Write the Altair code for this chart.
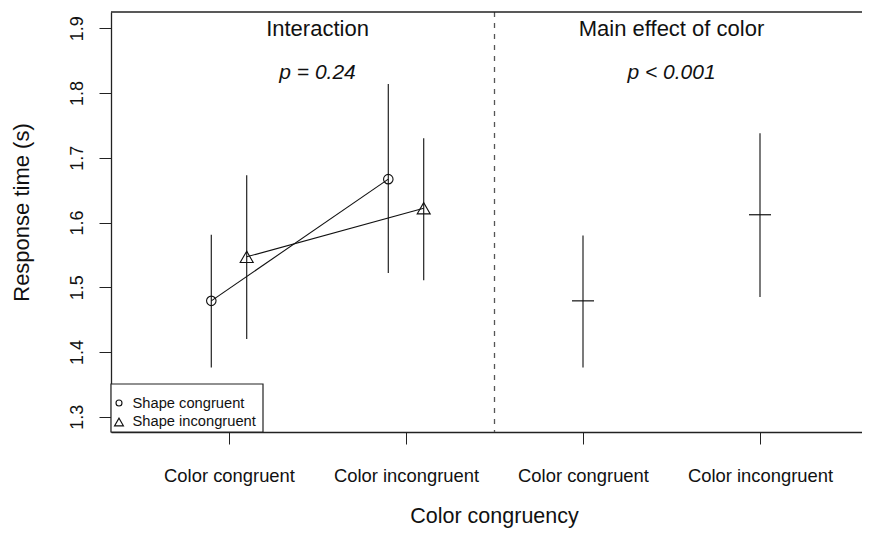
import altair as alt
import pandas as pd

# ---- data ----
conditions = ["Color congruent", "Color incongruent"]
shape_levels = ["Shape congruent", "Shape incongruent"]
panel_titles = ["Interaction", "Main effect of color"]
p_labels = ["p = 0.24", "p < 0.001"]

circle_mean = [1.479, 1.667]
circle_lo = [1.376, 1.522]
circle_hi = [1.581, 1.814]

tri_mean = [1.547, 1.622]
tri_lo = [1.420, 1.511]
tri_hi = [1.673, 1.730]

main_mean = [1.479, 1.612]
main_lo = [1.376, 1.485]
main_hi = [1.580, 1.738]

y_ticks = [1.3, 1.4, 1.5, 1.6, 1.7, 1.8, 1.9]
x_ticks = [1, 2, 3, 4]

# ---- tables ----
dodge = 0.1
rows = []
for i in range(2):
    rows.append(dict(series=shape_levels[0], x=1 + i - dodge, mean=circle_mean[i], lo=circle_lo[i], hi=circle_hi[i]))
    rows.append(dict(series=shape_levels[1], x=1 + i + dodge, mean=tri_mean[i], lo=tri_lo[i], hi=tri_hi[i]))
inter = pd.DataFrame(rows)
main = pd.DataFrame(dict(x=[3, 4], mean=main_mean, lo=main_lo, hi=main_hi))
titles = pd.DataFrame(dict(x=[1.5, 3.5], title=panel_titles, p=p_labels))

W, H = 751, 420
FONT = "Liberation Sans"
xs = alt.Scale(domain=[1 - 118 / 177, 1 - 118 / 177 + W / 177], nice=False, zero=False)
ys = alt.Scale(domain=[1.2764, 1.9252], nice=False, zero=False)

label_expr = "(datum.value == 1 || datum.value == 3) ? '%s' : '%s'" % (conditions[0], conditions[1])

x_axis = alt.Axis(values=x_ticks, labelExpr=label_expr, title="Color congruency",
                  grid=False, tickSize=12, tickColor="#222", domainColor="#222", domainWidth=1.3,
                  labelFontSize=18.4, labelFont=FONT, labelColor="#111", labelBaseline="alphabetic",
                  labelPadding=37, labelFlush=False,
                  titleFontSize=21.5, titleFont=FONT, titleFontWeight="normal", titleColor="#111",
                  titleX=383, titleY=90, titleBaseline="alphabetic", titleAlign="center")
y_axis = alt.Axis(values=y_ticks, format=".1f", title="Response time (s)",
                  grid=False, tickSize=12, tickColor="#222", domainColor="#222", domainWidth=1.3,
                  labelFontSize=18, labelFont=FONT, labelColor="#111", labelAngle=-90,
                  labelAlign="center", labelBaseline="alphabetic", labelPadding=17,
                  titleFontSize=22, titleFont=FONT, titleFontWeight="normal", titleColor="#111",
                  titleAngle=-90, titleX=-90, titleY=200, titleAlign="center", titleBaseline="middle")

base_i = alt.Chart(inter)

bars_i = base_i.mark_rule(color="#222", strokeWidth=1.2).encode(
    x=alt.X("x:Q", scale=xs, axis=x_axis), y=alt.Y("lo:Q", scale=ys, axis=y_axis), y2="hi:Q")

lines_i = base_i.mark_line(color="#111", strokeWidth=1.1).encode(
    x=alt.X("x:Q", scale=xs), y=alt.Y("mean:Q", scale=ys), detail="series:N", order="x:Q")

circles = alt.Chart(inter[inter.series == shape_levels[0]]).mark_point(
    shape="circle", filled=False, size=90, color="#111", strokeWidth=1.1, opacity=1).encode(
    x=alt.X("x:Q", scale=xs), y=alt.Y("mean:Q", scale=ys))

tris = alt.Chart(inter[inter.series == shape_levels[1]]).mark_point(
    shape="triangle-up", filled=False, size=170, color="#111", strokeWidth=1.1, opacity=1).encode(
    x=alt.X("x:Q", scale=xs), y=alt.Y("mean:Q", scale=ys))

base_m = alt.Chart(main)
bars_m = base_m.mark_rule(color="#222", strokeWidth=1.2).encode(
    x=alt.X("x:Q", scale=xs), y=alt.Y("lo:Q", scale=ys), y2="hi:Q")
ticks_m = base_m.mark_tick(orient="horizontal", size=22, thickness=1.2, color="#111", opacity=1).encode(
    x=alt.X("x:Q", scale=xs), y=alt.Y("mean:Q", scale=ys))

divider = alt.Chart(pd.DataFrame(dict(x=[2.5]))).mark_rule(
    color="#555", strokeDash=[5, 6], strokeWidth=1.3).encode(
    x=alt.X("x:Q", scale=xs), y=alt.value(0), y2=alt.value(H))

top_border = alt.Chart(pd.DataFrame(dict(a=[0]))).mark_rule(color="#222", strokeWidth=1.3).encode(
    x=alt.value(0), x2=alt.value(W), y=alt.value(0))

title_txt = alt.Chart(titles).mark_text(fontSize=22, font=FONT, color="#111", baseline="alphabetic").encode(
    x=alt.X("x:Q", scale=xs), y=alt.value(24), text="title:N")
p_txt = alt.Chart(titles).mark_text(fontSize=21, font=FONT, fontStyle="italic", color="#111",
                                    baseline="alphabetic").encode(
    x=alt.X("x:Q", scale=xs), y=alt.value(67), text="p:N")

# ---- legend box (bottom-left) ----
leg_box = alt.Chart(pd.DataFrame(dict(a=[0]))).mark_rect(
    fill="white", stroke="#222", strokeWidth=1.2).encode(
    x=alt.value(0), x2=alt.value(152), y=alt.value(372), y2=alt.value(H))
leg_c = alt.Chart(pd.DataFrame(dict(label=[shape_levels[0]]))).mark_point(
    shape="circle", filled=False, size=36, color="#111", strokeWidth=1.1, opacity=1).encode(
    x=alt.value(8), y=alt.value(391))
leg_t = alt.Chart(pd.DataFrame(dict(label=[shape_levels[1]]))).mark_point(
    shape="triangle-up", filled=False, size=80, color="#111", strokeWidth=1.1, opacity=1).encode(
    x=alt.value(8), y=alt.value(410))
leg_txt1 = alt.Chart(pd.DataFrame(dict(label=[shape_levels[0]]))).mark_text(
    fontSize=14.7, font=FONT, color="#111", align="left", baseline="alphabetic").encode(
    x=alt.value(21.5), y=alt.value(395.5), text="label:N")
leg_txt2 = alt.Chart(pd.DataFrame(dict(label=[shape_levels[1]]))).mark_text(
    fontSize=14.7, font=FONT, color="#111", align="left", baseline="alphabetic").encode(
    x=alt.value(21.5), y=alt.value(414), text="label:N")

chart = alt.layer(
    bars_i, lines_i, circles, tris, bars_m, ticks_m, divider, top_border,
    title_txt, p_txt, leg_box, leg_c, leg_t, leg_txt1, leg_txt2
).properties(
    width=W, height=H,
    autosize=alt.AutoSizeParams(type="none"),
    padding={"left": 103, "top": 4, "right": 0, "bottom": 98},
    background="white",
).configure_view(strokeWidth=0)

chart.save("out.html", embed_options={"renderer": "svg", "actions": False})
